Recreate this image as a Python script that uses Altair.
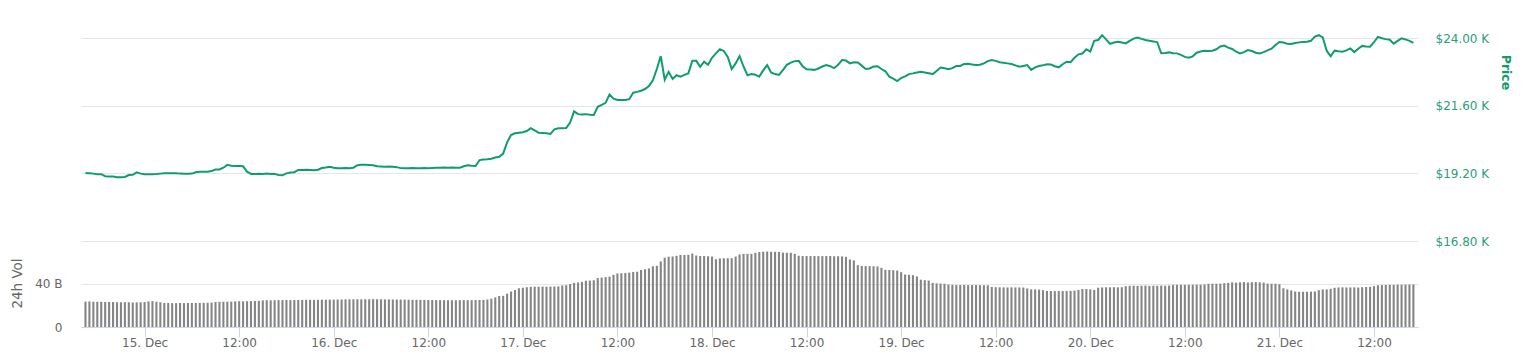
import altair as alt
import pandas as pd

# ---- data (BTC, 14-21 Dec 2020) ----
# half-hourly price (USD), from 14 Dec 16:30 UTC to 21 Dec 17:00 UTC
price = [
    19210, 19200, 19190, 19170, 19170, 19100, 19090, 19090, 19060, 19060,
    19070, 19140, 19150, 19235, 19190, 19170, 19170, 19170, 19175, 19190,
    19200, 19200, 19200, 19200, 19190, 19185, 19185, 19190, 19240, 19260,
    19260, 19260, 19280, 19335, 19340, 19400, 19500, 19470, 19460, 19460,
    19450, 19260, 19180, 19180, 19185, 19180, 19190, 19180, 19180, 19140,
    19130, 19200, 19230, 19240, 19320, 19320, 19325, 19320, 19310, 19330,
    19390, 19410, 19435, 19400, 19380, 19380, 19390, 19380, 19400, 19490,
    19505, 19505, 19500, 19490, 19450, 19440, 19430, 19440, 19435, 19420,
    19385, 19380, 19380, 19390, 19380, 19380, 19385, 19380, 19390, 19400,
    19400, 19405, 19400, 19410, 19400, 19400, 19450, 19490, 19470, 19460,
    19670, 19690, 19700, 19720, 19760, 19790, 19900, 20300, 20560, 20620,
    20640, 20660, 20700, 20800, 20720, 20640, 20630, 20620, 20600, 20760,
    20800, 20800, 20810, 21000, 21400, 21300, 21290, 21300, 21280, 21270,
    21560, 21630, 21700, 22000, 21850, 21800, 21800, 21800, 21830, 22060,
    22090, 22130, 22190, 22300, 22500, 22900, 23360, 22520, 22800, 22550,
    22680, 22630, 22690, 22745, 23195, 23190, 22980, 23160, 23050, 23300,
    23455, 23600, 23540, 23330, 22900, 23100, 23360, 22990, 22680, 22720,
    22700, 22630, 22850, 23040, 22780, 22720, 22690, 22860, 23050, 23130,
    23180, 23190, 23000, 22890, 22880, 22870, 22920, 22990, 23040, 23000,
    22930, 23050, 23220, 23200, 23100, 23140, 23130, 23020, 22900, 22920,
    22990, 23000, 22900, 22820, 22630, 22560, 22475, 22580, 22640, 22720,
    22745, 22780, 22800, 22780, 22750, 22720, 22830, 22950, 22930, 22890,
    22930, 23005, 23010, 23080, 23090, 23060, 23040, 23050, 23100, 23180,
    23220, 23190, 23140, 23120, 23100, 23075, 23030, 22980, 23010, 23040,
    22870, 22960, 23005, 23030, 23070, 23060, 23000, 22960, 23070, 23160,
    23140, 23300, 23420, 23450, 23600, 23520, 23900, 23930, 24100, 23950,
    23790, 23840, 23870, 23840, 23810, 23900, 23980, 24020, 23970, 23930,
    23900, 23880, 23850, 23460, 23470, 23490, 23460, 23455, 23400, 23330,
    23300, 23350, 23480, 23520, 23550, 23540, 23550, 23600, 23700, 23730,
    23660, 23610, 23520, 23455, 23500, 23570, 23540, 23480, 23455, 23500,
    23560, 23620, 23750, 23860, 23840, 23800, 23790, 23820, 23845, 23860,
    23870, 23900, 24050, 24100, 24020, 23550, 23350, 23550, 23530, 23515,
    23560, 23630, 23500, 23620, 23720, 23700, 23690, 23850, 24040, 23990,
    23960, 23940, 23800, 23900, 23990, 23950, 23900, 23825,
]

# half-hourly 24h volume (billion USD), from 14 Dec 16:30 UTC
vol_14 = [23.6, 23.8, 23.5, 23.5, 23.4, 23.3, 23.3, 23.2, 23.0, 23.0, 23.1, 23.0, 22.8, 22.9, 23.0]
vol_15 = [23.2, 23.8, 24.1, 23.5, 23.0, 22.4, 22.3, 22.2, 22.2, 22.3, 22.2, 22.3, 22.4, 22.3, 22.4, 22.5,
          22.6, 22.7, 23.2, 23.4, 23.5, 23.5, 23.6, 23.8, 24.0, 23.9, 24.0, 24.1, 24.2, 24.3, 24.8, 24.9,
          24.8, 24.9, 25.0, 25.0, 25.1, 25.0, 25.1, 25.2, 25.2, 25.3, 25.3, 25.2, 25.3, 25.4, 25.4, 25.5]
vol_16 = [25.5, 25.6, 25.6, 25.7, 25.7, 25.8, 25.8, 25.7, 25.8, 25.8, 25.9, 25.8, 25.8, 25.7, 25.7, 25.6,
          25.6, 25.5, 25.5, 25.4, 25.3, 25.3, 25.2, 25.2, 25.1, 25.1, 25.0, 25.0, 25.0, 24.9, 24.9, 24.9,
          25.0, 25.0, 25.0, 25.0, 25.0, 25.1, 25.2, 25.6, 26.3, 27.5, 28.8, 29.0, 31.0, 33.0, 34.4, 36.0]
vol_17 = [36.5, 37.0, 37.4, 37.5, 37.5, 37.6, 37.5, 37.6, 37.7, 37.8, 38.6, 38.9, 40.0, 41.0, 41.4, 42.0,
          43.0, 43.2, 43.5, 45.5, 46.0, 46.4, 46.8, 48.5, 49.8, 50.0, 50.2, 50.6, 51.2, 51.4, 53.0, 53.7,
          54.5, 56.5, 57.0, 61.0, 64.5, 65.4, 65.6, 66.2, 67.0, 67.0, 67.2, 68.3, 66.5, 66.0, 66.0, 65.8]
vol_18 = [65.5, 63.0, 63.8, 63.9, 64.0, 64.0, 65.5, 67.5, 67.9, 68.0, 68.0, 69.0, 69.8, 70.0, 70.2, 70.0,
          70.0, 69.8, 69.2, 69.0, 69.0, 68.0, 66.3, 66.0, 66.0, 66.0, 66.0, 65.9, 65.9, 66.0, 66.0, 65.8,
          65.8, 65.6, 65.2, 62.8, 62.0, 57.5, 56.8, 56.7, 56.6, 56.5, 56.3, 55.0, 53.2, 53.0, 52.8, 52.5]
vol_19 = [51.0, 48.8, 48.5, 48.2, 47.0, 44.0, 43.5, 43.2, 41.0, 40.6, 40.4, 40.2, 39.5, 39.2, 39.0, 39.0,
          39.1, 38.9, 39.0, 39.0, 38.9, 38.8, 38.8, 37.2, 37.0, 36.9, 36.9, 36.8, 36.9, 36.8, 36.8, 36.7,
          35.8, 35.0, 35.0, 34.8, 34.2, 33.6, 33.5, 33.4, 33.5, 33.4, 33.5, 33.6, 33.8, 34.5, 35.3, 35.4]
vol_20 = [35.0, 34.5, 36.5, 36.8, 36.9, 36.9, 37.0, 36.9, 37.0, 38.0, 38.3, 38.4, 38.2, 38.4, 38.5, 38.3,
          38.4, 38.4, 38.5, 38.4, 38.6, 39.2, 39.3, 39.3, 39.2, 39.3, 39.3, 39.4, 39.3, 39.6, 40.1, 40.2,
          40.2, 40.3, 40.8, 41.0, 41.5, 41.3, 41.6, 41.8, 41.4, 41.7, 41.8, 41.6, 41.3, 40.3, 40.2, 40.2]
vol_21 = [39.8, 36.0, 35.0, 34.0, 33.0, 32.8, 32.8, 32.8, 32.9, 33.0, 34.2, 35.0, 35.0, 35.5, 36.5, 36.8,
          36.9, 36.8, 36.8, 36.9, 36.7, 37.0, 37.2, 37.3, 38.0, 38.8, 39.0, 39.1, 39.2, 39.2, 39.4, 39.3,
          39.5, 39.5, 39.6]
volume = vol_14 + vol_15 + vol_16 + vol_17 + vol_18 + vol_19 + vol_20 + vol_21

price_ticks = [16800, 19200, 21600, 24000]
vol_ticks = [0, 40]
x_ticks = [(d, h) for d in range(15, 22) for h in (0, 12)]

# ---- tables ----
price_df = pd.DataFrame({
    "t": pd.date_range("2020-12-14 16:30", periods=len(price), freq="30min").strftime("%Y-%m-%dT%H:%M:%SZ"),
    "price": price,
})
vol_df = pd.DataFrame({
    "t": pd.date_range("2020-12-14 16:30", periods=len(volume), freq="30min").strftime("%Y-%m-%dT%H:%M:%SZ"),
    "vol": volume,
})

GREEN = "#0f9d6f"
FONT = "DejaVu Sans"

x_scale = alt.Scale(
    type="utc",
    domain=[alt.DateTime(year=2020, month=12, date=14, hours=16, minutes=34, utc=True),
            alt.DateTime(year=2020, month=12, date=21, hours=16, minutes=57, utc=True)],
)


def x_axis():
    return alt.Axis(
        title=None,
        values=[alt.DateTime(year=2020, month=12, date=d, hours=h, utc=True) for d, h in x_ticks],
        labelExpr="utcFormat(datum.value, '%H') == '00' ? utcFormat(datum.value, '%-d. %b') : utcFormat(datum.value, '%H:%M')",
        grid=False, tickSize=10, tickColor="#ccd6eb", domainColor="#ccd6eb",
        labelColor="#666666", labelFont=FONT, labelFontSize=12, labelPadding=0,
        labelFlush=False, labelOverlap=False,
    )


bars = alt.Chart(vol_df).mark_bar(color="#858585", size=2.1, clip=True).encode(
    x=alt.X("t:T", scale=x_scale, axis=x_axis()),
    y=alt.Y("vol:Q",
            scale=alt.Scale(domain=[0, 278.1], nice=False, zero=True),
            axis=alt.Axis(orient="left", values=vol_ticks, grid=True,
                          labelExpr="datum.value == 0 ? '0' : datum.value + ' B'",
                          title="24h Vol", titleAngle=270, titleX=-64, titleY=255,
                          titleAlign="center", titleBaseline="middle",
                          titleColor="#666666", titleFont=FONT, titleFontSize=13.5, titleFontWeight="normal",
                          labelColor="#666666", labelFont=FONT, labelFontSize=12, labelPadding=19,
                          ticks=False, domain=False, gridColor="#e6e6e6")),
)

line = alt.Chart(price_df).mark_line(color=GREEN, strokeWidth=2, clip=True).encode(
    x=alt.X("t:T", scale=x_scale, axis=x_axis()),
    y=alt.Y("price:Q",
            scale=alt.Scale(domain=[13750, 24355], nice=False, zero=False),
            axis=alt.Axis(orient="right", values=price_ticks, grid=True,
                          labelExpr="'$' + format(datum.value / 1000, '.2f') + ' K'",
                          title="Price", titleAngle=90, titleX=87, titleY=44,
                          titleAlign="center", titleBaseline="middle",
                          titleColor=GREEN, titleFont=FONT, titleFontSize=12.5, titleFontWeight="bold",
                          labelColor="#2c9c7c", labelFont=FONT, labelFontSize=12, labelPadding=17,
                          labelAlign="left", labelBaseline="middle",
                          ticks=False, domain=False, gridColor="#e6e6e6")),
)

chart = alt.layer(bars, line).resolve_scale(y="independent").properties(
    width=1337, height=299,
    autosize=alt.AutoSizeParams(type="none"),
    padding={"left": 73, "top": 20, "right": 100, "bottom": 24},
    background="white",
).configure_view(strokeWidth=0)

chart.save("out.html", embed_options={"renderer": "svg", "actions": False})
